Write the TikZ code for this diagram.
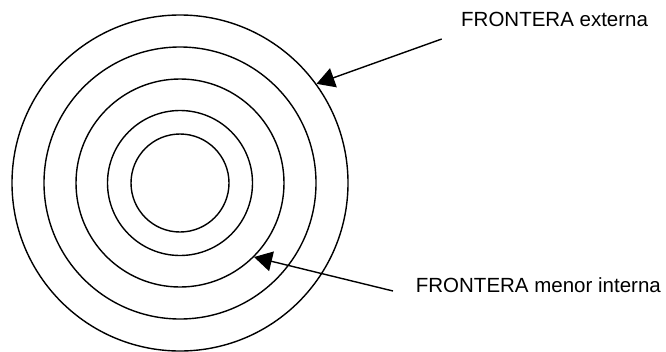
\documentclass[tikz,border=0pt]{standalone}
\usepackage{fontspec}
\setmainfont{Liberation Sans}
\usetikzlibrary{arrows.meta}
\tikzset{
  ring/.style={circle, draw, line width=1.4pt, inner sep=0pt, minimum size=#1},
  lbl/.style={anchor=base west, inner sep=0pt, font=\fontsize{20.5}{24}\selectfont},
  pointer/.style={line width=1.4pt, -{Triangle[length=18pt,width=20pt]}}
}
\begin{document}
\begin{tikzpicture}[x=1pt,y=-1pt]
\useasboundingbox (0,0) rectangle (666,351);
\node[ring=336pt] (c1) at (180,183) {};
\node[ring=272pt] (c2) at (180,183) {};
\node[ring=208pt] (c3) at (180,183) {};
\node[ring=145pt] (c4) at (180,183) {};
\node[ring=98pt]  (c5) at (180,183) {};
\node[lbl] (t1) at (461,26.7) {FRONTERA externa};
\node[lbl] (t2) at (415.7,292.7) {FRONTERA menor interna};
\coordinate (s1) at (441.7,39);
\coordinate (s2) at (393,291);
\draw[pointer] (s1) -- (c1.36);
\draw[pointer] (s2) -- (c3.-45);
\end{tikzpicture}
\end{document}
